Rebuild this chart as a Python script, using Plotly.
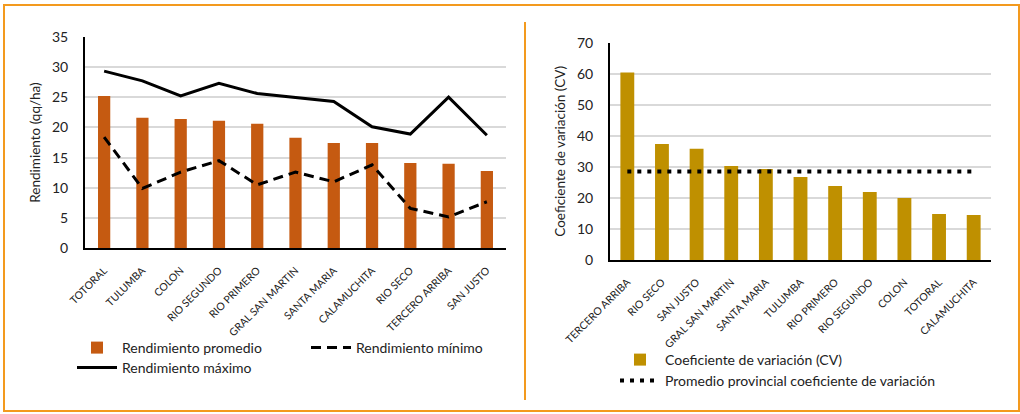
import plotly.graph_objects as go

# ---- Data: left chart ----
dept_left = ["TOTORAL", "TULUMBA", "COLON", "RIO SEGUNDO", "RIO PRIMERO", "GRAL SAN MARTIN",
             "SANTA MARIA", "CALAMUCHITA", "RIO SECO", "TERCERO ARRIBA", "SAN JUSTO"]
rend_promedio = [25.2, 21.6, 21.4, 21.1, 20.6, 18.3, 17.4, 17.4, 14.1, 14.0, 12.8]
rend_maximo = [29.3, 27.7, 25.2, 27.3, 25.6, 25.0, 24.3, 20.1, 18.9, 25.0, 18.7]
rend_minimo = [18.4, 9.9, 12.6, 14.5, 10.5, 12.6, 11.0, 13.8, 6.6, 5.2, 7.7]

# ---- Data: right chart ----
dept_right = ["TERCERO ARRIBA", "RIO SECO", "SAN JUSTO", "GRAL SAN MARTIN", "SANTA MARIA",
              "TULUMBA", "RIO PRIMERO", "RIO SEGUNDO", "COLON", "TOTORAL", "CALAMUCHITA"]
cv_values = [60.4, 37.4, 35.8, 30.3, 29.3, 26.7, 23.8, 21.9, 20.0, 14.8, 14.5]
cv_promedio = [28.5] * len(dept_right)

left_ticks = [0, 5, 10, 15, 20, 25, 30, 35]
right_ticks = [0, 10, 20, 30, 40, 50, 60, 70]

W, H = 1020, 414
FONT = "Lato"
ORANGE_BAR = "#C55A11"
GOLD_BAR = "#BF9000"
FRAME = "#F39A1E"
GRID = "#D9D9D9"
TXT = "#222"

def px(x):
    return x / W

def py(y):
    return 1 - y / H

fig = go.Figure()

fig.add_trace(go.Bar(x=dept_left, y=rend_promedio, name="Rendimiento promedio", width=0.32,
                     marker=dict(color=ORANGE_BAR, line=dict(width=0)),
                     xaxis="x", yaxis="y", legend="legend"))
fig.add_trace(go.Scatter(x=dept_left, y=rend_minimo, name="Rendimiento mínimo", mode="lines",
                         line=dict(color="black", width=3, dash="10px,6px"),
                         xaxis="x", yaxis="y", legend="legend2"))
fig.add_trace(go.Scatter(x=dept_left, y=rend_maximo, name="Rendimiento máximo", mode="lines",
                         line=dict(color="black", width=3),
                         xaxis="x", yaxis="y", legend="legend3"))

fig.add_trace(go.Bar(x=dept_right, y=cv_values, name="Coeficiente de variación (CV)", width=0.4,
                     marker=dict(color=GOLD_BAR, line=dict(width=0)),
                     xaxis="x2", yaxis="y2", legend="legend4"))
fig.add_trace(go.Scatter(x=dept_right, y=cv_promedio,
                         name="Promedio provincial coeficiente de variación", mode="lines",
                         line=dict(color="black", width=4, dash="4px,6px"),
                         xaxis="x2", yaxis="y2", legend="legend5"))

def xax(lo, hi, anchor):
    return dict(domain=[px(lo), px(hi)], anchor=anchor, type="category", automargin=False,
                tickangle=-45, ticklabelstandoff=10, showgrid=False,
                showline=True, linecolor="black", linewidth=2, ticks="",
                tickfont=dict(family=FONT, size=10.5, color=TXT))

def yax(top, bottom, anchor, rng, ticks, title):
    return dict(domain=[py(bottom), py(top)], anchor=anchor, range=rng, automargin=False,
                tickvals=ticks, showgrid=True, gridcolor=GRID, gridwidth=2,
                zeroline=False, ticklabelstandoff=12,
                showline=True, linecolor="black", linewidth=2, ticks="",
                tickfont=dict(family=FONT, size=14, color=TXT),
                title=dict(text=title, font=dict(family=FONT, size=13.5, color=TXT), standoff=8))

fig.update_layout(
    width=W, height=H,
    margin=dict(l=0, r=0, t=0, b=0, autoexpand=False),
    paper_bgcolor="white", plot_bgcolor="white",
    font=dict(family=FONT, size=13, color=TXT),
    barmode="overlay",
    xaxis=xax(85, 506, "y"),
    yaxis=yax(36.7, 248.3, "x", [0, 35], left_ticks, "Rendimiento (qq/ha)"),
    xaxis2=xax(610, 991, "y2"),
    yaxis2=yax(42.7, 260, "x2", [0, 70], right_ticks, "Coeficiente de variación (CV)"),
    showlegend=True,
)

def leg(x, y):
    return dict(x=px(x), y=py(y), xanchor="left", yanchor="middle", orientation="h",
                bgcolor="rgba(0,0,0,0)", font=dict(family=FONT, size=14, color=TXT),
                itemwidth=40, tracegroupgap=0)

fig.update_layout(
    legend=leg(72, 348),
    legend2=leg(306, 348),
    legend3=leg(72, 368),
    legend4=leg(615, 360),
    legend5=leg(615, 381),
)

# Frame and divider
fig.add_shape(type="rect", xref="paper", yref="paper", x0=px(4), x1=px(1019), y0=py(411), y1=py(5),
              line=dict(color=FRAME, width=2), layer="below")
fig.add_shape(type="line", xref="paper", yref="paper", x0=px(525), x1=px(525), y0=py(400), y1=py(22),
              line=dict(color=FRAME, width=2))

fig.write_html("out.html")
